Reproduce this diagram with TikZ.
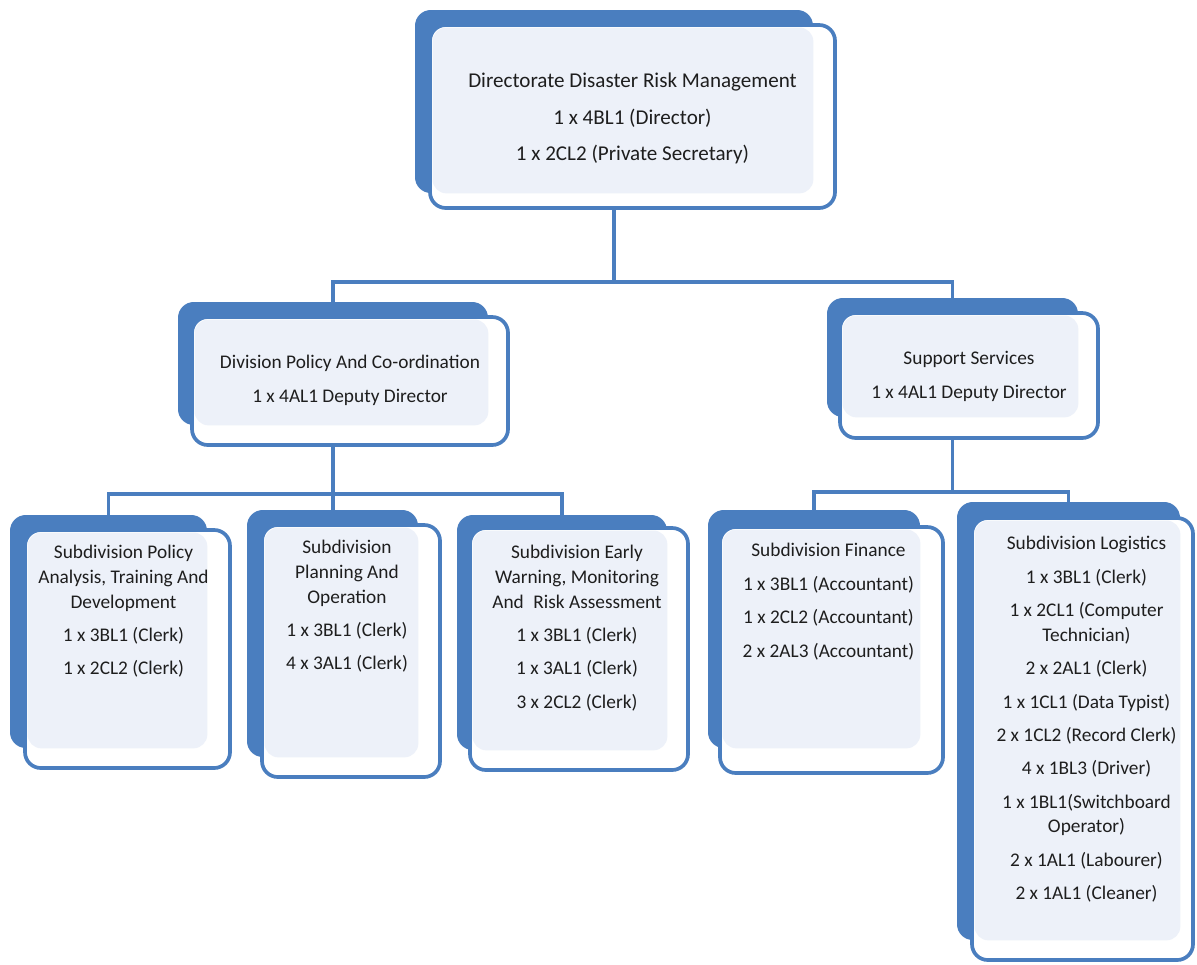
\documentclass[tikz,border=0pt]{standalone}
\usepackage{fontspec}
\setmainfont{Carlito}
\usetikzlibrary{calc,fit,backgrounds}

\definecolor{unitblue}{HTML}{4A7EBF}
\definecolor{unitpale}{HTML}{EDF1F9}
\definecolor{unitink}{HTML}{1E1E1E}

\tikzset{
  backbox/.style={fill=unitblue,rounded corners=9pt,inner sep=0pt},
  frontbox/.style={draw=unitblue,line width=2.1pt,fill=white,rounded corners=9pt,
    inner sep=0pt,
    path picture={\fill[unitpale,rounded corners=8pt]
      ($(path picture bounding box.north west)+(2.5,2.5)$) rectangle (#1.south east);}},
  unittext/.style={align=center,inner sep=0pt,anchor=north,text=unitink,
    font=\fontsize{11}{14}\selectfont},
  link/.style={draw=unitblue,line width=2.1pt}
}

\begin{document}
\begin{tikzpicture}[x=0.02cm,y=-0.02cm]
  \useasboundingbox (0,0) rectangle (1197,964);

  % director
  \node[backbox,fit={(415,10) (813,193)}] (top-back) {};
  \node[frontbox=top-back,fit={(430,25) (835,208)}] (top) {};
  \node[unittext,font=\fontsize{12}{14.5}\selectfont] (top-txt) at ($(top.north)+(0,49)$)
    {Directorate Disaster Risk Management\\[6.5pt]
     1 x 4BL1 (Director)\\[6.5pt]
     1 x 2CL2 (Private Secretary)};

  % divisions
  \node[backbox,fit={(178,302) (488,425)}] (divpol-back) {};
  \node[frontbox=divpol-back,fit={(192,317) (508,445)}] (divpol) {};
  \node[unittext] (divpol-txt) at ($(divpol.north)+(0,40)$)
    {Division Policy And Co-ordination\\[5pt] 1 x 4AL1 Deputy Director};

  \node[backbox,fit={(827,298) (1078,417)}] (supp-back) {};
  \node[frontbox=supp-back,fit={(840,313) (1098,438)}] (supp) {};
  \node[unittext] (supp-txt) at ($(supp.north)+(0,40)$)
    {Support Services\\[5pt] 1 x 4AL1 Deputy Director};

  % subdivisions
  \node[backbox,fit={(10,515) (207,748)}] (sub1-back) {};
  \node[frontbox=sub1-back,fit={(25,530) (230,768)}] (sub1) {};
  \node[unittext] (sub1-txt) at ($(sub1.north)+(-4,17)$)
    {Subdivision Policy\\ Analysis, Training And\\ Development\\[5pt]
     1 x 3BL1 (Clerk)\\[5pt] 1 x 2CL2 (Clerk)};

  \node[backbox,fit={(247,510) (418,757)}] (sub2-back) {};
  \node[frontbox=sub2-back,fit={(262,525) (440,777)}] (sub2) {};
  \node[unittext] (sub2-txt) at ($(sub2.north)+(-4,17)$)
    {Subdivision\\ Planning And\\ Operation\\[5pt]
     1 x 3BL1 (Clerk)\\[5pt] 4 x 3AL1 (Clerk)};

  \node[backbox,fit={(457,515) (667,750)}] (sub3-back) {};
  \node[frontbox=sub3-back,fit={(470,528) (688,770)}] (sub3) {};
  \node[unittext] (sub3-txt) at ($(sub3.north)+(-2,19)$)
    {Subdivision Early\\ Warning, Monitoring\\ And\enspace Risk Assessment\\[5pt]
     1 x 3BL1 (Clerk)\\[5pt] 1 x 3AL1 (Clerk)\\[5pt] 3 x 2CL2 (Clerk)};

  \node[backbox,fit={(708,510) (920,748)}] (sub4-back) {};
  \node[frontbox=sub4-back,fit={(720,527) (943,773)}] (sub4) {};
  \node[unittext] (sub4-txt) at ($(sub4.north)+(-3,18)$)
    {Subdivision Finance\\[5pt] 1 x 3BL1 (Accountant)\\[5pt]
     1 x 2CL2 (Accountant)\\[5pt] 2 x 2AL3 (Accountant)};

  \node[backbox,fit={(957,502) (1180,940)}] (sub5-back) {};
  \node[frontbox=sub5-back,fit={(972,518) (1193,960)}] (sub5) {};
  \node[unittext] (sub5-txt) at ($(sub5.north)+(4,20)$)
    {Subdivision Logistics\\[5pt] 1 x 3BL1 (Clerk)\\[5pt]
     1 x 2CL1 (Computer\\ Technician)\\[5pt] 2 x 2AL1 (Clerk)\\[5pt]
     1 x 1CL1 (Data Typist)\\[5pt] 2 x 1CL2 (Record Clerk)\\[5pt]
     4 x 1BL3 (Driver)\\[5pt] 1 x 1BL1(Switchboard\\ Operator)\\[5pt]
     2 x 1AL1 (Labourer)\\[5pt] 2 x 1AL1 (Cleaner)};

  % connectors
  \coordinate (bus0) at (0,282);
  \coordinate (bus1) at (0,494);
  \coordinate (bus2) at (0,492);
  \begin{scope}[on background layer]
    \draw[link](top-back.south)--(top-back.south |- bus0);
    \draw[link](divpol-back.north)--(divpol-back.north |- bus0)-|(supp-back.north);
    \draw[link](divpol-back.south)--(divpol-back.south |- sub2-back.north);
    \draw[link](sub1-back.north)--(sub1-back.north |- bus1)
      --(sub3-back.north |- bus1)--(sub3-back.north);
    \draw[link](supp-back.south)--(supp-back.south |- bus2);
    \draw[link](sub4-back.north)--(sub4-back.north |- bus2)
      --(sub5-back.north |- bus2)--(sub5-back.north);
  \end{scope}
\end{tikzpicture}
\end{document}
